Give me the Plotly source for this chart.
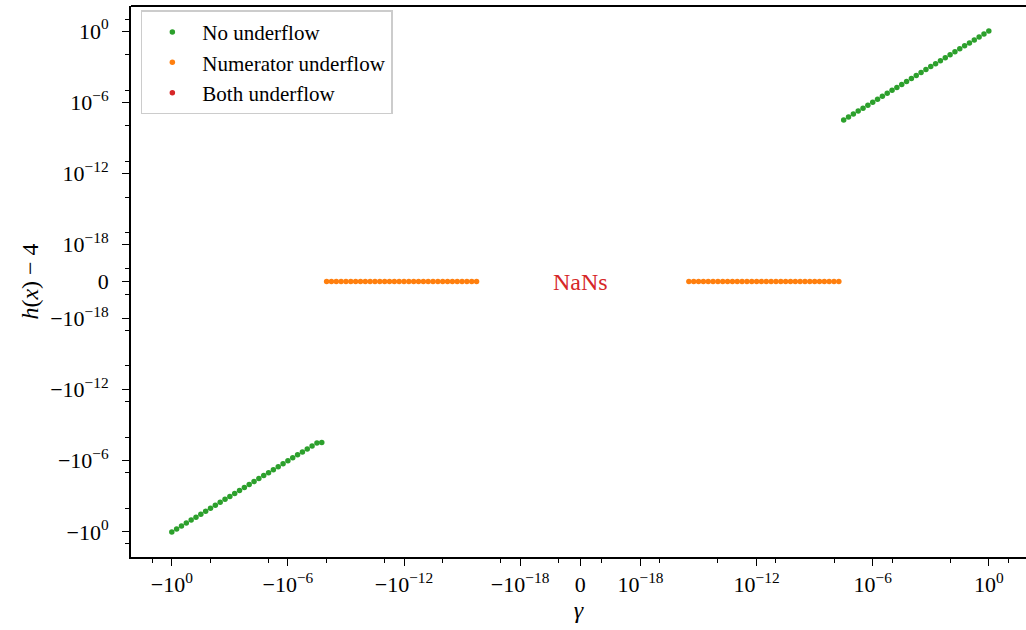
import numpy as np
import plotly.graph_objects as go

# ---------------- data ----------------
# gamma values given as base-10 exponents of |gamma|
green_neg_gamma_exp = [0, -0.25, -0.5, -0.75, -1, -1.25, -1.5, -1.75, -2, -2.25, -2.5, -2.75,
                       -3, -3.25, -3.5, -3.75, -4, -4.25, -4.5, -4.75, -5, -5.25, -5.5, -5.75,
                       -6, -6.25, -6.5, -6.75, -7, -7.25, -7.5, -7.75]
green_neg_h_exp = [0, -0.25, -0.5, -0.75, -1, -1.25, -1.5, -1.75, -2, -2.25, -2.5, -2.75,
                   -3, -3.25, -3.5, -3.75, -4, -4.25, -4.5, -4.75, -5, -5.25, -5.5, -5.75,
                   -6, -6.25, -6.5, -6.75, -7, -7.25, -7.5, -7.55]
orange_neg_gamma_exp = [-8, -8.25, -8.5, -8.75, -9, -9.25, -9.5, -9.75, -10, -10.25, -10.5, -10.75,
                        -11, -11.25, -11.5, -11.75, -12, -12.25, -12.5, -12.75, -13, -13.25, -13.5,
                        -13.75, -14, -14.25, -14.5, -14.75, -15, -15.25, -15.5, -15.75]
orange_pos_gamma_exp = [-15.5, -15.25, -15, -14.75, -14.5, -14.25, -14, -13.75, -13.5, -13.25,
                        -13, -12.75, -12.5, -12.25, -12, -11.75, -11.5, -11.25, -11, -10.75,
                        -10.5, -10.25, -10, -9.75, -9.5, -9.25, -9, -8.75, -8.5, -8.25, -8, -7.75]
green_pos_gamma_exp = [-7.5, -7.25, -7, -6.75, -6.5, -6.25, -6, -5.75, -5.5, -5.25, -5, -4.75,
                       -4.5, -4.25, -4, -3.75, -3.5, -3.25, -3, -2.75, -2.5, -2.25, -2, -1.75,
                       -1.5, -1.25, -1, -0.75, -0.5, -0.25, 0]
green_pos_h_exp = [-7.5, -7.25, -7, -6.75, -6.5, -6.25, -6, -5.75, -5.5, -5.25, -5, -4.75,
                   -4.5, -4.25, -4, -3.75, -3.5, -3.25, -3, -2.75, -2.5, -2.25, -2, -1.75,
                   -1.5, -1.25, -1, -0.75, -0.5, -0.25, 0]

major_tick_vals = [-1e0, -1e-6, -1e-12, -1e-18, 0, 1e-18, 1e-12, 1e-6, 1e0]
major_tick_text = ["−10<sup>0</sup>", "−10<sup>−6</sup>", "−10<sup>−12</sup>", "−10<sup>−18</sup>",
                   "0", "10<sup>−18</sup>", "10<sup>−12</sup>", "10<sup>−6</sup>", "10<sup>0</sup>"]
minor_tick_vals = [-1e1, -1e-2, -1e-5, -1e-8, -1e-11, -1e-14, -1e-17, -1e-20,
                   1e-20, 1e-17, 1e-14, 1e-11, 1e-8, 1e-5, 1e-2, 1e1]

LINTHRESH = 1e-20


def symlog(v):
    """matplotlib-style symlog transform (base 10, linscale 1), in decade units."""
    v = np.asarray(v, dtype=float)
    lin_adj = 1.0 / (1.0 - 0.1)
    a = np.abs(v)
    out = np.where(a <= LINTHRESH, v / LINTHRESH * lin_adj,
                   np.sign(v) * (lin_adj + np.log10(np.maximum(a, LINTHRESH) / LINTHRESH)))
    return out


def pos(e):
    return 10.0 ** np.asarray(e, dtype=float)


green_x = np.concatenate([-pos(green_neg_gamma_exp), pos(green_pos_gamma_exp)])
green_y = np.concatenate([-pos(green_neg_h_exp), pos(green_pos_h_exp)])
orange_x = np.concatenate([-pos(orange_neg_gamma_exp), pos(orange_pos_gamma_exp)])
orange_y = np.zeros(len(orange_x))

GREEN, ORANGE, RED = "#2ca02c", "#ff7f0e", "#d62728"
FONT = "Liberation Serif"

fig = go.Figure()
fig.add_trace(go.Scatter(x=symlog(green_x), y=symlog(green_y), mode="markers",
                         marker=dict(color=GREEN, size=5.5), name="No underflow"))
fig.add_trace(go.Scatter(x=symlog(orange_x), y=symlog(orange_y), mode="markers",
                         marker=dict(color=ORANGE, size=5.5), name="Numerator underflow"))
fig.add_trace(go.Scatter(x=[None], y=[None], mode="markers",
                         marker=dict(color=RED, size=5.5), name="Both underflow"))

fig.add_annotation(x=float(symlog(0)), y=float(symlog(0)), text="NaNs", showarrow=False,
                   font=dict(family=FONT, size=24, color=RED))

# top spine (right spine is cropped off)
fig.add_shape(type="line", xref="paper", yref="paper", x0=0, x1=1, y0=1, y1=1,
              line=dict(color="black", width=1.8))

px_per_unit_x = 19.35
x_lo = -23.22
x_hi = x_lo + 895 / px_per_unit_x

axis_common = dict(showgrid=False, zeroline=False, showline=True, linecolor="black",
                   linewidth=1.8, ticks="outside", ticklen=7, tickwidth=1.3,
                   tickcolor="black", tickmode="array", automargin=False,
                   tickfont=dict(family=FONT, size=22, color="black"),
                   minor=dict(tickmode="array", ticks="outside", ticklen=4, tickwidth=1.1,
                              tickcolor="black", tickvals=list(symlog(minor_tick_vals))))

fig.update_layout(
    width=1026, height=630,
    margin=dict(l=131, r=0, t=6, b=73, autoexpand=False),
    plot_bgcolor="white", paper_bgcolor="white",
    xaxis=dict(range=[x_lo, x_hi], tickvals=list(symlog(major_tick_vals)),
               ticktext=major_tick_text,
               title=dict(text="<i>γ</i>", font=dict(family=FONT, size=24, color="black"),
                          standoff=2),
               **axis_common),
    yaxis=dict(range=[-23.22, 23.22], tickvals=list(symlog(major_tick_vals)),
               ticktext=major_tick_text, ticklabelstandoff=9,
               title=dict(text="<i>h</i>(<i>x</i>) − 4",
                          font=dict(family=FONT, size=24, color="black"),
                          standoff=5),
               **axis_common),
    legend=dict(x=0.011, y=0.992, xanchor="left", yanchor="top",
                bgcolor="rgba(255,255,255,0.8)", bordercolor="#cccccc", borderwidth=1.5,
                font=dict(family=FONT, size=21, color="black"),
                itemwidth=50),
    showlegend=True,
)

fig.write_html("out.html", post_script="document.body.style.margin='0px';",
               config={"displayModeBar": False})
